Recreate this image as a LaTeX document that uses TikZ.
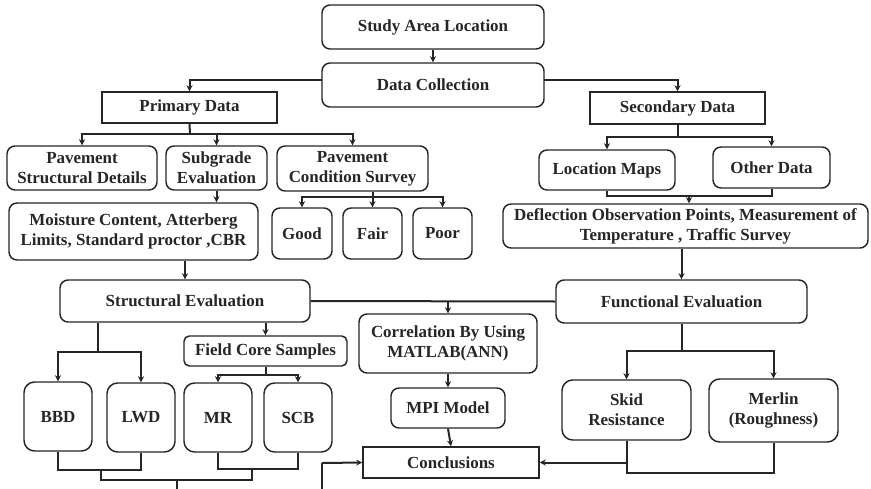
\documentclass[tikz,border=0pt]{standalone}
\usepackage{fontspec}
\setmainfont{Liberation Serif}
\usetikzlibrary{arrows.meta,calc}
\definecolor{ink}{HTML}{262626}
\tikzset{
  base/.style={draw=ink, line width=1.1pt, fill=white, inner sep=0pt, align=center,
    text=ink, font=\fontsize{12.7}{15}\selectfont\bfseries},
  rbox/.style={base, rounded corners=6pt},
  sbox/.style={base},
  link/.style={draw=ink, line width=1.5pt},
  arr/.style={link, -{Stealth[length=4.5pt,width=4.5pt]}},
}
% \boxat{name}{style}{x1}{y1}{x2}{y2}{text}: box spanning two corners (pixel units)
\newcommand\boxat[7]{%
  \pgfmathsetmacro\bxw{(#5-#3)*0.75}%
  \pgfmathsetmacro\bxh{(#6-#4)*0.75}%
  \node[#2, minimum width=\bxw pt, minimum height=\bxh pt] (#1) at ({(#3+#5)/2},{(#4+#6)/2}) {#7};}
\begin{document}
\begin{tikzpicture}[x=0.75pt,y=-0.75pt]
\useasboundingbox (0,0) rectangle (871,489);
\clip (0,0) rectangle (871,489);

% top of the chart
\boxat{sal}{rbox}{322}{5}{544}{49}{Study Area Location}
\boxat{dc}{rbox}{322}{63}{544}{107}{Data Collection}
\boxat{pd}{sbox}{102}{92}{277}{123}{Primary Data}
\boxat{sd}{sbox}{590}{92}{765}{124}{Secondary Data}

% primary data branch
\boxat{psd}{rbox}{7}{146}{157}{190}{Pavement\\Structural Details}
\boxat{se}{rbox}{166}{146}{267}{190}{Subgrade\\Evaluation}
\boxat{pcs}{rbox}{277}{146}{428}{191}{Pavement\\Condition Survey}
\boxat{mc}{rbox}{9}{203}{258}{260}{Moisture Content, Atterberg\\Limits, Standard proctor ,CBR}
\boxat{good}{rbox}{272}{208}{332}{259}{Good}
\boxat{fair}{rbox}{343}{208}{402}{259}{Fair}
\boxat{poor}{rbox}{413}{208}{472}{259}{Poor}

% secondary data branch
\boxat{lm}{rbox}{539}{150}{675}{190}{Location Maps}
\boxat{od}{rbox}{713}{147}{830}{188}{Other Data}
\boxat{dop}{rbox}{503}{204}{868}{248}{Deflection Observation Points, Measurement of\\Temperature , Traffic Survey}

% evaluations and results
\boxat{stv}{rbox}{60}{280}{310}{322}{Structural Evaluation}
\boxat{fev}{rbox}{556}{280}{807}{323}{Functional Evaluation}
\boxat{corr}{rbox}{359}{314}{537}{373}{Correlation By Using\\MATLAB(ANN)}
\boxat{mpi}{rbox}{391}{388}{505}{428}{MPI Model}
\boxat{concl}{sbox}{363}{447}{539}{478}{Conclusions}
\boxat{fcs}{rbox,rounded corners=4pt}{184}{336}{347}{366}{Field Core Samples}
\boxat{bbd}{rbox,rounded corners=8pt}{24}{382}{92}{451}{BBD}
\boxat{lwd}{rbox,rounded corners=8pt}{107}{383}{175}{452}{LWD}
\boxat{mr}{rbox,rounded corners=8pt}{184}{383}{252}{452}{MR}
\boxat{scb}{rbox,rounded corners=8pt}{264}{383}{332}{452}{SCB}
\boxat{skid}{rbox,rounded corners=8pt}{562}{380}{691}{440}{Skid\\Resistance}
\boxat{merlin}{rbox,rounded corners=8pt}{709}{379}{838}{442}{Merlin\\(Roughness)}

% junction points
\coordinate (dcl) at (322,80);
\coordinate (dcr) at (544,80);
\coordinate (pj) at (190,134);
\coordinate (gj) at (372.5,197);
\coordinate (sj) at (677.5,137);
\coordinate (lj) at (689,196);
\coordinate (bj) at (98,352);
\coordinate (mj) at (265.5,375);
\coordinate (fj) at (681.5,351);
\coordinate (blj) at (101,470);
\coordinate (msj) at (252,469);
\coordinate (lowj) at (177,480);
\coordinate (hid) at (177,495);
\coordinate (rise) at (322,463);
\coordinate (smj) at (700,473);

% connectors
\draw[arr] (sal) -- (dc);
\draw[arr] (dcl) -| (pd.north);
\draw[arr] (dcr) -| (sd.north);

\draw[link] (pd.south) -- (pj);
\draw[arr] (pj) -| (psd.north);
\draw[arr] (pj) -| (pcs.north);
\draw[arr] (se.north |- pj) -- (se.north);
\draw[arr] (se.south) -- (se.south |- mc.north);

\draw[link] (fair.north |- pcs.south) -- (gj);
\draw[arr] (gj) -| (good.north);
\draw[arr] (gj) -- (fair.north);
\draw[arr] (gj) -| (poor.north);

\draw[link] (sd.south) -- (sj);
\draw[arr] (sj) -| (lm.north);
\draw[arr] (sj) -| (od.north);
\draw[link] (lm.south) |- (lj) -| (od.south);
\draw[arr] (lj) -- (lj |- dop.north);
\draw[arr] (fev.north |- dop.south) -- (fev.north);

\draw[arr] (stv.north |- mc.south) -- (stv.north);
\draw[link] (stv.east) -- (fev.west);
\draw[arr] (corr.north |- stv.east) -- (corr.north);
\draw[arr] (corr.south) -- (mpi.north);
\draw[arr] (mpi.south) -- (concl.north);

\draw[arr] (fcs.north |- stv.south) -- (fcs.north);
\draw[link] (bj |- stv.south) -- (bj);
\draw[arr] (bj) -| (bbd.north);
\draw[arr] (bj) -| (lwd.north);
\draw[link] (fcs.south) -- (mj);
\draw[arr] (mj) -| (mr.north);
\draw[arr] (mj) -| (scb.north);

\draw[link] (bbd.south) |- (blj) -| (lwd.south);
\draw[link] (mr.south) |- (msj) -| (scb.south);
\draw[link] (blj) |- (lowj) -| (msj);
\draw[link] (lowj) -- (hid) -| (rise);
\draw[arr] (rise) -- (concl.west);

\draw[link] (fev.south) -- (fj);
\draw[arr] (fj) -| (skid.north);
\draw[arr] (fj) -| (merlin.north);
\draw[link] (skid.south) |- (smj) -| (merlin.south);
\draw[arr] (skid.south |- concl.east) -- (concl.east);
\end{tikzpicture}
\end{document}
